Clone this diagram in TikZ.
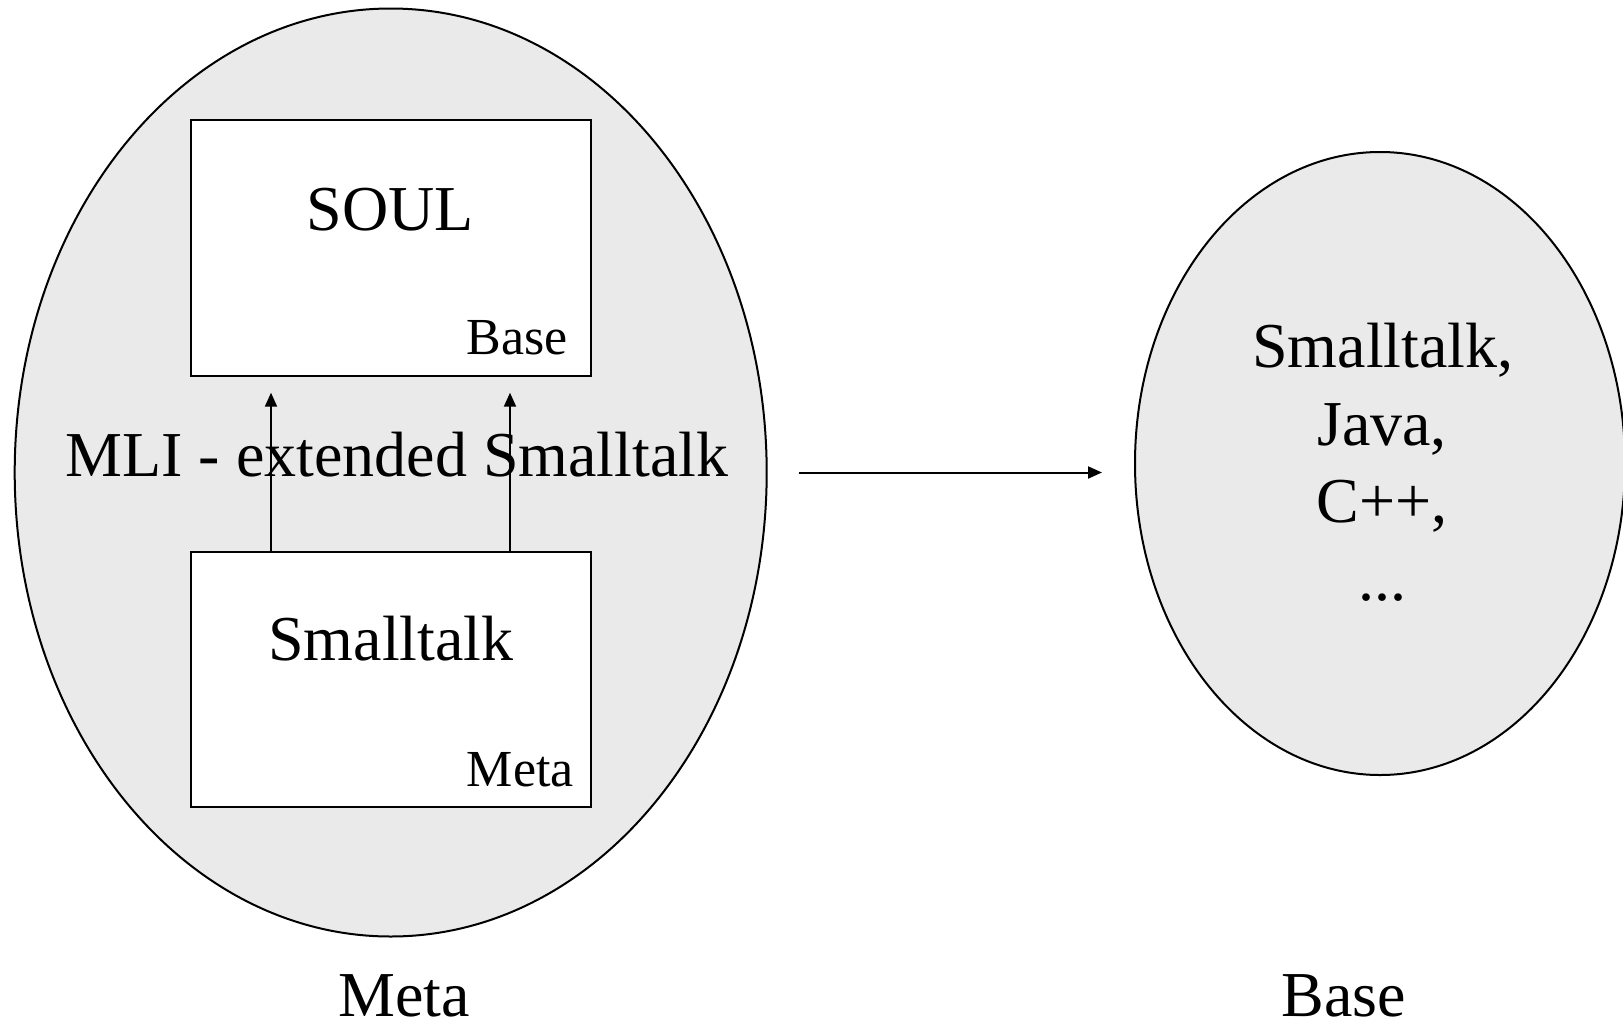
\documentclass[tikz,border=0pt]{standalone}
\usepackage{fontspec}
\setmainfont{Liberation Serif}
\usetikzlibrary{shapes.geometric,arrows.meta}
\definecolor{fillgray}{HTML}{EAEAEA}
\tikzset{
  blob/.style={ellipse,draw=black,fill=fillgray,line width=2pt,inner sep=0pt},
  box/.style={rectangle,draw=black,fill=white,line width=2pt,minimum width=400.5pt,minimum height=255.7pt,inner sep=0pt},
  big/.style={font=\fontsize{64}{77}\selectfont,inner sep=0pt},
  small/.style={font=\fontsize{52}{62}\selectfont,inner sep=0pt},
  arr/.style={line width=2pt,-{Triangle[length=14pt,width=12pt]}}
}
\begin{document}
\begin{tikzpicture}[x=1pt,y=-1pt]
\useasboundingbox (0,0) rectangle (1623,1026);
\node[blob,minimum width=752pt,minimum height=928pt] (L) at (390.7,472.5) {};
\node[blob,minimum width=490pt,minimum height=623pt] (R) at (1380,463.5) {};
\node[box] (soul) at (390.75,247.85) {};
\node[box] (st) at (390.75,679.5) {};
\node[big,anchor=base] (soult) at (390,230) {SOUL};
\node[small,anchor=base east] (baset) at (568,354) {Base};
\node[big,anchor=base] (stt) at (391,660) {Smalltalk};
\node[small,anchor=base east] (metat) at (574,786.6) {Meta};
\node[big,anchor=base] (mli) at (397,476) {MLI - extended Smalltalk};
\draw[arr] ([xshift=-119.75pt]st.north) -- ([xshift=-119.75pt,yshift=-16pt]soul.south);
\draw[arr] ([xshift=119.25pt]st.north) -- ([xshift=119.25pt,yshift=-16pt]soul.south);
\draw[arr] ([xshift=31pt]L.east) -- ([xshift=-32pt]R.west |- L.east);
\node[big,anchor=base] (r1) at (1383,367) {Smalltalk,};
\node[big,anchor=base] (r2) at (1382,445) {Java,};
\node[big,anchor=base] (r3) at (1382,522.6) {C++,};
\node[big,anchor=base] (r4) at (1382,600) {...};
\node[big,anchor=base,text depth=0pt] (metab) at (404,1016) {Meta};
\node[big,anchor=base,text depth=0pt] (baseb) at (1344,1016) {Base};
\end{tikzpicture}
\end{document}
